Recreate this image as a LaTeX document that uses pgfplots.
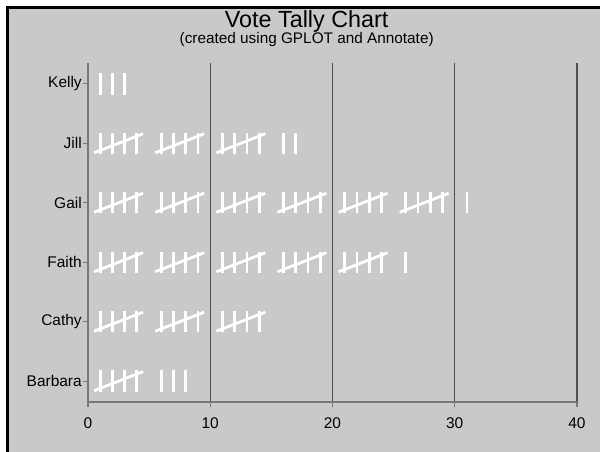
\documentclass[border=0pt]{standalone}
\usepackage{pgfplots}
\pgfplotsset{compat=1.18}
\usepackage{pgfplotstable}
\usepackage{fontspec}
\setmainfont{Liberation Sans}
\definecolor{bggray}{HTML}{C9C9C9}
\definecolor{gridc}{HTML}{4F4F4F}
\definecolor{axisc}{HTML}{787878}
% category index: Barbara=1, Cathy=2, Faith=3, Gail=4, Jill=5, Kelly=6
% vertical tally strokes (vote position, category)
\pgfplotstableread{
x y
1 6
2 6
3 6
1 5
2 5
3 5
4 5
6 5
7 5
8 5
9 5
11 5
12 5
13 5
14 5
16 5
17 5
1 4
2 4
3 4
4 4
6 4
7 4
8 4
9 4
11 4
12 4
13 4
14 4
16 4
17 4
18 4
19 4
21 4
22 4
23 4
24 4
26 4
27 4
28 4
29 4
31 4
1 3
2 3
3 3
4 3
6 3
7 3
8 3
9 3
11 3
12 3
13 3
14 3
16 3
17 3
18 3
19 3
21 3
22 3
23 3
24 3
26 3
1 2
2 2
3 2
4 2
6 2
7 2
8 2
9 2
11 2
12 2
13 2
14 2
1 1
2 1
3 1
4 1
6 1
7 1
8 1
}\verts
% diagonal strokes (every fifth vote): centre of the group, category
\pgfplotstableread{
x y
2.5 5
7.5 5
12.5 5
2.5 4
7.5 4
12.5 4
17.5 4
22.5 4
27.5 4
2.5 3
7.5 3
12.5 3
17.5 3
22.5 3
2.5 2
7.5 2
12.5 2
2.5 1
}\diags
\begin{document}
\begin{tikzpicture}
\fill[white] (0,0) rectangle (450pt,339pt);
\fill[bggray] (6.75pt,0) rectangle (450pt,332.25pt);
\draw[black, line width=2.25pt, line join=miter] (5.625pt,0) -- (5.625pt,333.375pt) -- (450pt,333.375pt);
\node[anchor=base, inner sep=0pt, font=\fontsize{17.5}{20}\selectfont] at (230pt,318.6pt) {Vote Tally Chart};
\node[anchor=base, inner sep=0pt, font=\fontsize{11.5}{14}\selectfont] at (230pt,306.6pt) {(created using GPLOT and Annotate)};
\begin{axis}[
  at={(66pt,37.5pt)}, anchor=south west,
  scale only axis, width=366.75pt, height=254.25pt,
  xmin=0, xmax=40, ymin=0.65, ymax=6.35,
  xtick={0,10,20,30,40},
  ytick={1,2,3,4,5,6},
  yticklabels={Barbara,Cathy,Faith,Gail,Jill,Kelly},
  axis lines*=left,
  axis line style={color=axisc, line width=1.5pt},
  xmajorgrids,
  major grid style={color=gridc, line width=1pt},
  tick align=outside,
  major tick length=4pt,
  tick style={color=axisc, line width=0.9pt},
  ticklabel style={font=\fontsize{11.6}{13}\selectfont, text=black},
  /pgf/number format/assume math mode=true,
  xticklabel style={yshift=-4pt},
  yticklabel style={inner sep=0pt, xshift=-0.5pt},
  clip=false,
]
\addplot[white, line width=2.1pt, quiver={u=0, v=0.36}]
  table[x=x, y expr=\thisrow{y}-0.18] {\verts};
\addplot[white, line width=2.1pt, quiver={u=4, v=0.32}]
  table[x expr=\thisrow{x}-2, y expr=\thisrow{y}-0.16] {\diags};
\end{axis}
\pgfresetboundingbox
\path[use as bounding box] (0,0) rectangle (450pt,339pt);
\end{tikzpicture}
\end{document}
